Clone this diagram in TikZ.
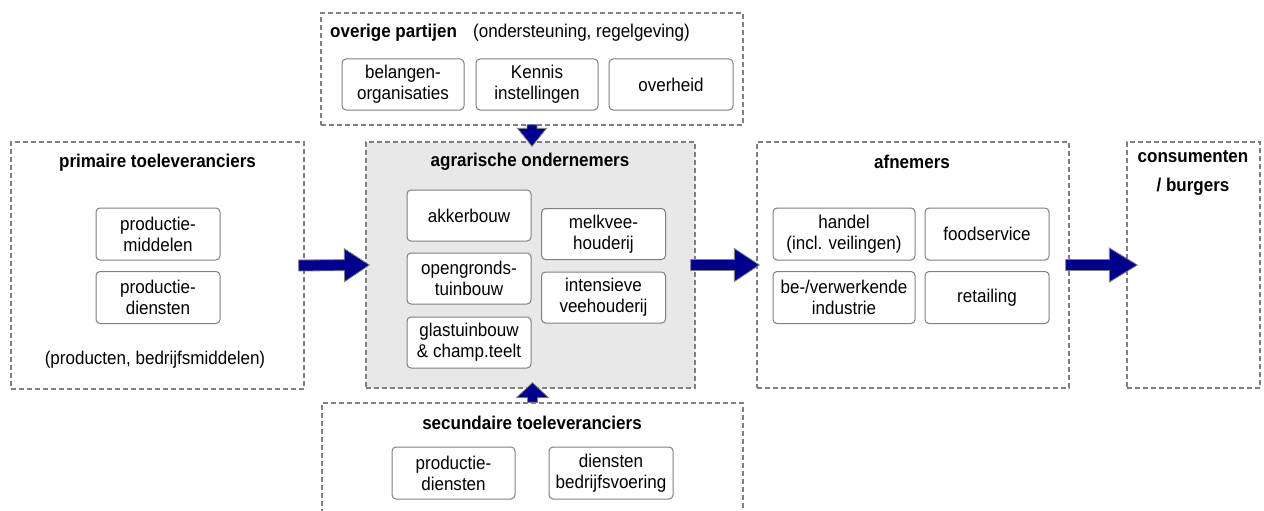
\documentclass[tikz,border=0pt]{standalone}
\usepackage{fontspec}
\setmainfont[FakeStretch=0.92]{Liberation Sans}
\usetikzlibrary{calc}
\definecolor{dashgray}{HTML}{808080}
\definecolor{boxgray}{HTML}{7F7F7F}
\definecolor{agrfill}{HTML}{E8E8E8}
\definecolor{navy}{RGB}{0,0,140}
\newcommand\blockarr[5]{%
  \coordinate (ba-h) at ($(#2)!#5!(#1)$);
  \filldraw[barrow] ($(#1)!#3!90:(#2)$) -- ($(ba-h)!#3!-90:(#1)$) -- ($(ba-h)!#4!-90:(#1)$) -- (#2)
    -- ($(ba-h)!#4!90:(#1)$) -- ($(ba-h)!#3!90:(#1)$) -- ($(#1)!#3!-90:(#2)$) -- cycle;}
\tikzset{
  txt/.style={font=\fontsize{18.5}{21}\selectfont, inner sep=0pt, align=center},
  ttl/.style={txt, font=\fontsize{18.5}{21}\selectfont\bfseries},
  outer/.style={draw=dashgray, line width=1.3pt, dash pattern=on 5pt off 3pt, inner sep=0pt},
  inbox/.style={txt, draw=boxgray, line width=1pt, rounded corners=4pt, fill=white, minimum height=51pt},
  barrow/.style={fill=navy, draw=gray, line width=0.8pt, line join=miter}
}
\begin{document}
\begin{tikzpicture}[x=1pt,y=-1pt]
\useasboundingbox (0,0) rectangle (1264,511);
% outer boxes
\node[outer, minimum width=293pt, minimum height=247pt] (prim) at (157.5,265.5) {};
\node[outer, fill=agrfill, minimum width=329pt, minimum height=246pt] (agr) at (530.5,265) {};
\node[outer, minimum width=312pt, minimum height=246pt] (afn) at (913,265) {};
\node[outer, minimum width=133pt, minimum height=246pt] (cons) at (1193.5,265) {};
\node[outer, minimum width=422pt, minimum height=112pt] (over) at (532,69) {};
\node[outer, minimum width=421pt, minimum height=140pt] (sec) at (532.5,473) {};
% titles
\node[ttl] (primT) at (157.5,163) {primaire toeleveranciers};
\node[txt] (primN) at (155,360) {(producten, bedrijfsmiddelen)};
\node[ttl] (agrT) at (530,162) {agrarische ondernemers};
\node[ttl] (afnT) at (912,162) {afnemers};
\node[ttl, font=\fontsize{18.5}{29}\selectfont\bfseries] (consT) at (1193,173) {consumenten\\/ burgers};
\node[ttl, anchor=west] (overT) at (330,33) {overige partijen};
\node[txt, anchor=west] (overN) at (473,33) {(ondersteuning, regelgeving)};
\node[ttl] (secT) at (532,423) {secundaire toeleveranciers};
% inner boxes: primaire
\node[inbox, minimum width=124pt, minimum height=52pt] (pm) at (158,234) {productie-\\middelen};
\node[inbox, minimum width=124pt, minimum height=52pt] (pd) at (158,297.5) {productie-\\diensten};
% agrarische
\node[inbox, minimum width=124pt] (akk) at (469,215.5) {akkerbouw};
\node[inbox, minimum width=124pt] (opg) at (469,278.5) {opengronds-\\tuinbouw};
\node[inbox, minimum width=124pt] (gla) at (469,342.5) {glastuinbouw\\\& champ.teelt};
\node[inbox, minimum width=124pt] (melk) at (603.5,234) {melkvee-\\houderij};
\node[inbox, minimum width=124pt] (int) at (603.5,297.5) {intensieve\\veehouderij};
% afnemers
\node[inbox, minimum width=142pt, minimum height=52pt] (han) at (844,234) {handel\\(incl. veilingen)};
\node[inbox, minimum width=124pt, minimum height=52pt] (food) at (987,234) {foodservice};
\node[inbox, minimum width=142pt, minimum height=52pt] (bev) at (844,297.5) {be-/verwerkende\\industrie};
\node[inbox, minimum width=124pt, minimum height=52pt] (ret) at (987,297.5) {retailing};
% overige
\node[inbox, minimum width=122pt] (bel) at (403,84.5) {belangen-\\organisaties};
\node[inbox, minimum width=122pt] (ken) at (537,84.5) {Kennis\\instellingen};
\node[inbox, minimum width=124pt] (ovh) at (671,84.5) {overheid};
% secundaire
\node[inbox, minimum width=123pt, minimum height=52pt] (spd) at (453.5,473) {productie-\\diensten};
\node[inbox, minimum width=124pt, minimum height=52pt] (dbv) at (611,473) {diensten\\bedrijfsvoering};
% arrows
\coordinate (a1s) at ([xshift=-6pt]prim.east);
\coordinate (a1e) at ([xshift=4pt]agr.west);
\coordinate (a2s) at ([xshift=-5pt]agr.east);
\coordinate (a2e) at ([xshift=3pt]afn.west);
\coordinate (a3s) at ([xshift=-4pt]afn.east);
\coordinate (a3e) at ([xshift=11pt]cons.west);
\coordinate (t0) at (over.south |- agr.north);
\coordinate (tS) at ([yshift=1pt]over.south);
\coordinate (tE) at ([yshift=-5pt]t0);
\coordinate (b0) at (sec.north |- agr.south);
\coordinate (bS) at (sec.north);
\coordinate (bE) at ([yshift=6pt]b0);
\blockarr{a1s}{a1e}{5.5pt}{16.5pt}{25pt}
\blockarr{a2s}{a2e}{5.5pt}{16.5pt}{25pt}
\blockarr{a3s}{a3e}{5.5pt}{17pt}{28pt}
\blockarr{tS}{tE}{5pt}{14.5pt}{18pt}
\blockarr{bS}{bE}{5pt}{16pt}{15pt}
\end{tikzpicture}
\end{document}
